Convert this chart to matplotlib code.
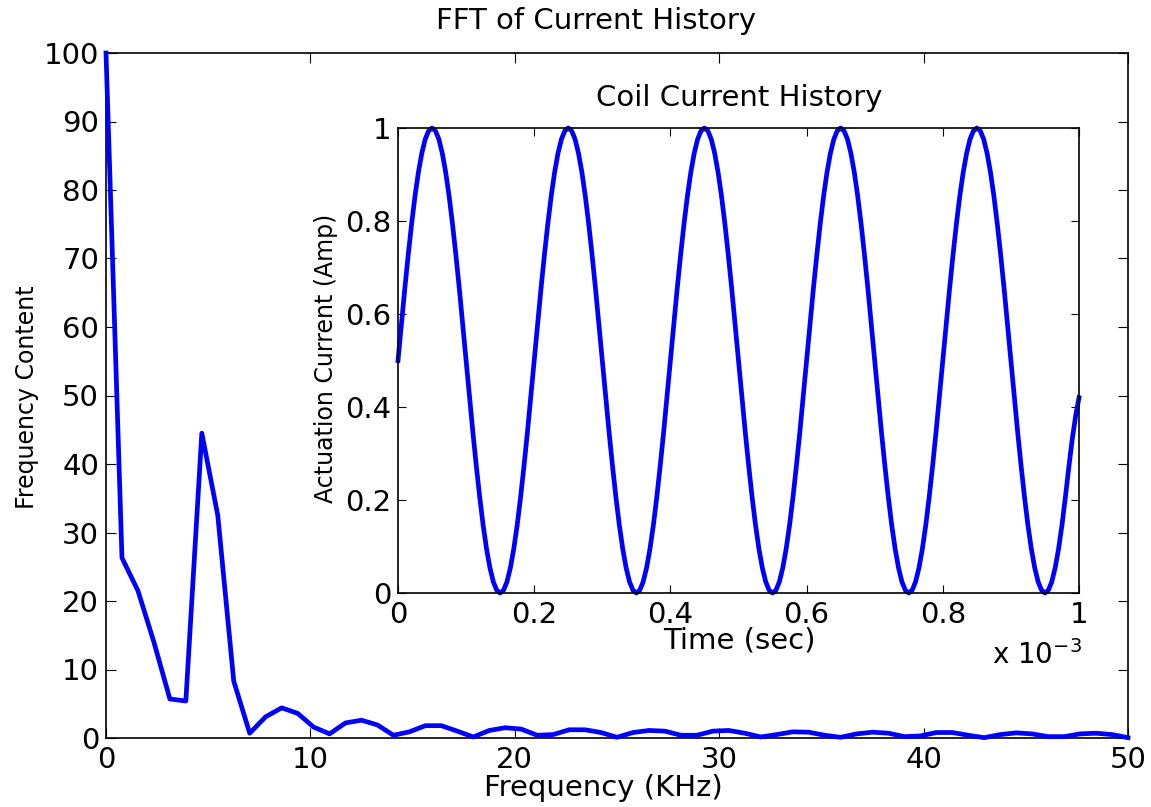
import numpy as np
import matplotlib
matplotlib.use("Agg")
import matplotlib.pyplot as plt

# ---- data ----
fft_content = [100.0, 26.3, 21.5, 14.0, 5.7, 5.4, 44.5, 32.5, 8.3, 0.7,
               3.1, 4.4, 3.6, 1.6, 0.6, 2.2, 2.6, 1.9, 0.4, 0.9,
               1.8, 1.8, 1.0, 0.15, 1.1, 1.5, 1.3, 0.4, 0.5, 1.2,
               1.2, 0.8, 0.1, 0.8, 1.1, 1.0, 0.4, 0.4, 1.0, 1.1,
               0.7, 0.15, 0.5, 0.9, 0.85, 0.4, 0.1, 0.6, 0.85, 0.7,
               0.2, 0.3, 0.8, 0.8, 0.4, 0.05, 0.5, 0.75, 0.6, 0.2,
               0.2, 0.6, 0.7, 0.5, 0.05]
fft_freq_khz = np.linspace(0, 50, len(fft_content))

# coil current read every 0.005 ms (5 periods of 0.2 ms)
current_amp = [
    0.500, 0.578, 0.655, 0.727, 0.794, 0.854, 0.905, 0.946, 0.976, 0.994,
    1.000, 0.994, 0.976, 0.946, 0.905, 0.854, 0.794, 0.727, 0.655, 0.578,
    0.500, 0.422, 0.345, 0.273, 0.206, 0.146, 0.095, 0.054, 0.024, 0.006,
    0.000, 0.006, 0.024, 0.054, 0.095, 0.146, 0.206, 0.273, 0.345, 0.422,
    0.500, 0.578, 0.655, 0.727, 0.794, 0.854, 0.905, 0.946, 0.976, 0.994,
    1.000, 0.994, 0.976, 0.946, 0.905, 0.854, 0.794, 0.727, 0.655, 0.578,
    0.500, 0.422, 0.345, 0.273, 0.206, 0.146, 0.095, 0.054, 0.024, 0.006,
    0.000, 0.006, 0.024, 0.054, 0.095, 0.146, 0.206, 0.273, 0.345, 0.422,
    0.500, 0.578, 0.655, 0.727, 0.794, 0.854, 0.905, 0.946, 0.976, 0.994,
    1.000, 0.994, 0.976, 0.946, 0.905, 0.854, 0.794, 0.727, 0.655, 0.578,
    0.500, 0.422, 0.345, 0.273, 0.206, 0.146, 0.095, 0.054, 0.024, 0.006,
    0.000, 0.006, 0.024, 0.054, 0.095, 0.146, 0.206, 0.273, 0.345, 0.422,
    0.500, 0.578, 0.655, 0.727, 0.794, 0.854, 0.905, 0.946, 0.976, 0.994,
    1.000, 0.994, 0.976, 0.946, 0.905, 0.854, 0.794, 0.727, 0.655, 0.578,
    0.500, 0.422, 0.345, 0.273, 0.206, 0.146, 0.095, 0.054, 0.024, 0.006,
    0.000, 0.006, 0.024, 0.054, 0.095, 0.146, 0.206, 0.273, 0.345, 0.422,
    0.500, 0.578, 0.655, 0.727, 0.794, 0.854, 0.905, 0.946, 0.976, 0.994,
    1.000, 0.994, 0.976, 0.946, 0.905, 0.854, 0.794, 0.727, 0.655, 0.578,
    0.500, 0.422, 0.345, 0.273, 0.206, 0.146, 0.095, 0.054, 0.024, 0.006,
    0.000, 0.006, 0.024, 0.054, 0.095, 0.146, 0.206, 0.270, 0.330, 0.380,
    0.420]
time_ms = np.linspace(0, 1.0, len(current_amp))

main_xticks = [0, 10, 20, 30, 40, 50]
main_yticks = [0, 10, 20, 30, 40, 50, 60, 70, 80, 90, 100]
inset_xticks = [0, 0.2, 0.4, 0.6, 0.8, 1]
inset_yticks = [0, 0.2, 0.4, 0.6, 0.8, 1]

plt.rcParams['font.family'] = ['DejaVu Sans']
W, H = 1151, 807
fig = plt.figure(figsize=(W / 100, H / 100), dpi=100)
fig.patch.set_facecolor('white')

TICK_FS = 21
HLABEL_FS = 21
VLABEL_FS = 17


def px_axes(l, t, r, b):
    return [l / W, 1 - b / H, (r - l) / W, (b - t) / H]


def style(ax):
    for s in ax.spines.values():
        s.set_linewidth(1.2)
        s.set_color('black')
    ax.tick_params(direction='in', top=True, right=True, length=7, width=0.8,
                   labelsize=TICK_FS, colors='black')


ax = fig.add_axes(px_axes(106, 53, 1128, 738))
ax.plot(fft_freq_khz, fft_content, color='#0000ff', lw=3.4, clip_on=False, zorder=3)
ax.set_xlim(0, 50)
ax.set_ylim(0, 100)
ax.set_xticks(main_xticks)
ax.set_yticks(main_yticks)
ax.set_xticklabels([str(v) for v in main_xticks])
ax.set_yticklabels([str(v) for v in main_yticks])
style(ax)
ax.tick_params(axis='x', pad=6)
ax.tick_params(axis='y', pad=5)
ax.set_xlabel('Frequency (KHz)', fontsize=HLABEL_FS)
ax.xaxis.set_label_coords((603 - 106) / 1022, -(788 - 738) / 685)
ax.xaxis.label.set_va('center')
ax.set_ylabel('Frequency Content', fontsize=VLABEL_FS)
ax.yaxis.set_label_coords(-(106 - 27) / 1022, (738 - 397) / 685)
ax.yaxis.label.set_va('center')
fig.text(596 / W, 1 - 21 / H, 'FFT of Current History', fontsize=HLABEL_FS,
         ha='center', va='center')

ins = fig.add_axes(px_axes(398, 128, 1079, 593))
ins.set_facecolor('white')
ins.set_zorder(5)
ins.plot(time_ms, current_amp, color='#0000ff', lw=3.4, clip_on=False)
ins.set_xlim(0, 1)
ins.set_ylim(0, 1)
ins.set_xticks(inset_xticks)
ins.set_yticks(inset_yticks)
ins.set_xticklabels(['0', '0.2', '0.4', '0.6', '0.8', '1'])
ins.set_yticklabels(['0', '0.2', '0.4', '0.6', '0.8', '1'])
style(ins)
ins.tick_params(length=6)
ins.tick_params(axis='x', pad=6)
ins.tick_params(axis='y', pad=5)
ins.set_xlabel('Time (sec)', fontsize=HLABEL_FS)
ins.xaxis.set_label_coords((739 - 398) / 681, -(641 - 593) / 465)
ins.xaxis.label.set_va('center')
ins.set_ylabel('Actuation Current (Amp)', fontsize=VLABEL_FS)
ins.yaxis.set_label_coords(-(398 - 326) / 681, (593 - 358) / 465)
ins.yaxis.label.set_va('center')
ins.text((739 - 398) / 681, (593 - 98) / 465, 'Coil Current History',
         fontsize=HLABEL_FS, ha='center', va='center', transform=ins.transAxes)
ins.text((1037 - 398) / 681, -(655 - 593) / 465, r'x 10$^{-3}$', fontsize=HLABEL_FS - 1,
         ha='center', va='center', transform=ins.transAxes)

fig.savefig('out.png', dpi=100, facecolor='white')
